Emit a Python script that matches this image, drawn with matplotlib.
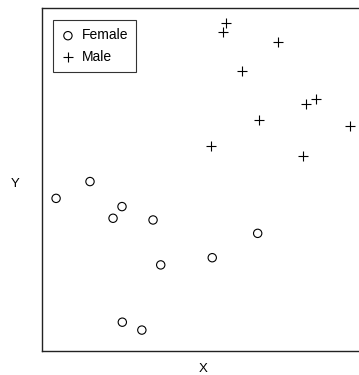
import matplotlib
matplotlib.use("Agg")
import matplotlib.pyplot as plt

plt.rcParams['font.family'] = ['Liberation Sans', 'DejaVu Sans']

female_x = [0.44, 1.50, 2.50, 2.22, 3.47, 6.74, 5.32, 3.71, 2.51, 3.12]
female_y = [4.45, 4.94, 4.21, 3.87, 3.82, 3.43, 2.72, 2.51, 0.84, 0.61]
male_x = [5.75, 5.67, 7.37, 6.24, 8.57, 8.24, 6.79, 9.63, 5.27, 8.17]
male_y = [9.55, 9.31, 9.00, 8.16, 7.35, 7.19, 6.73, 6.57, 5.99, 5.69]
labels = ["Female", "Male"]

W, H = 359, 375
fig = plt.figure(figsize=(W/100, H/100), dpi=100)
l, r, t, b = 42, 362, 8, 351
ax = fig.add_axes([l/W, 1 - b/H, (r-l)/W, (b-t)/H])
ax.set_xlim(0, 10)
ax.set_ylim(0, 10)

ax.scatter(female_x, female_y, s=36, marker='o', facecolors='none',
           edgecolors='black', linewidths=0.8, label=labels[0])
ax.scatter(male_x, male_y, s=55, marker='+', color='black',
           linewidths=0.8, label=labels[1])

ax.set_xticks([])
ax.set_yticks([])
for s in ax.spines.values():
    s.set_linewidth(1.0)
    s.set_color('#222222')
ax.spines['right'].set_visible(False)

fig.text(15.5/W, 1 - 184/H, "Y", fontsize=9.5, ha='center', va='center')
fig.text(203/W, 1 - 369/H, "X", fontsize=9.5, ha='center', va='center')

leg = ax.legend(loc='upper left', bbox_to_anchor=(11/320, 1 - 12/343),
                borderaxespad=0, fontsize=10, fancybox=False, frameon=True,
                handletextpad=0.5, borderpad=0.6, labelspacing=0.55,
                handlelength=0.95)
leg.get_frame().set_edgecolor('black')
leg.get_frame().set_linewidth(0.8)

fig.savefig("out.png", dpi=100)
